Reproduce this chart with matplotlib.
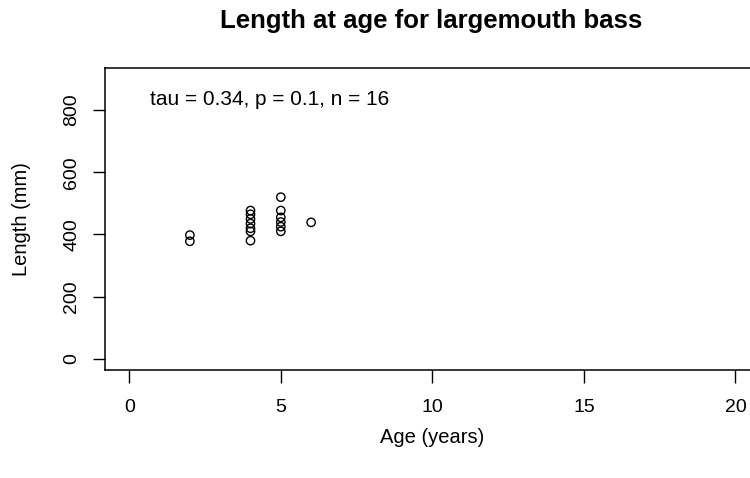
import matplotlib.pyplot as plt

plt.rcParams['font.family'] = ['Liberation Sans', 'DejaVu Sans']

# Age (years) and total length (mm) of sampled largemouth bass
age = [2, 2, 4, 4, 4, 4, 4, 4, 4, 5, 5, 5, 5, 5, 5, 6]
length = [398, 378, 477, 465, 450, 435, 420, 410, 380,
          520, 477, 455, 440, 425, 410, 439]

x_ticks = [0, 5, 10, 15, 20]
y_ticks = [0, 200, 400, 600, 800]
stats_label = 'tau = 0.34, p = 0.1, n = 16'

fig = plt.figure(figsize=(7.5, 4.78), dpi=100)
ax = fig.add_axes([0.14, 0.226, 0.873, 0.632])

ax.scatter(age, length, s=36, facecolors='none', edgecolors='black', linewidths=1.0)

ax.set_xlim(-0.8, 20.8)
ax.set_ylim(-36, 936)
ax.set_xticks(x_ticks)
ax.set_yticks(y_ticks)
ax.set_yticklabels([str(v) for v in y_ticks], rotation=90, va='center')
ax.tick_params(direction='out', length=9, width=1, labelsize=14)
ax.tick_params(axis='x', pad=12)
ax.tick_params(axis='y', pad=9)
for s in ax.spines.values():
    s.set_linewidth(1.1)

ax.text(0.069, 0.894, stats_label, transform=ax.transAxes, fontsize=15,
        ha='left', va='center')

ax.set_xlabel('Age (years)', fontsize=14.5, va='center')
ax.xaxis.set_label_coords(0.5, -0.222)
ax.set_ylabel('Length (mm)', fontsize=14.5, va='center')
ax.yaxis.set_label_coords(-0.128, 0.5)
fig.text(0.575, 0.941, 'Length at age for largemouth bass', fontsize=18.5,
         fontweight='bold', ha='center', va='baseline')

fig.savefig('out.png', dpi=100)
